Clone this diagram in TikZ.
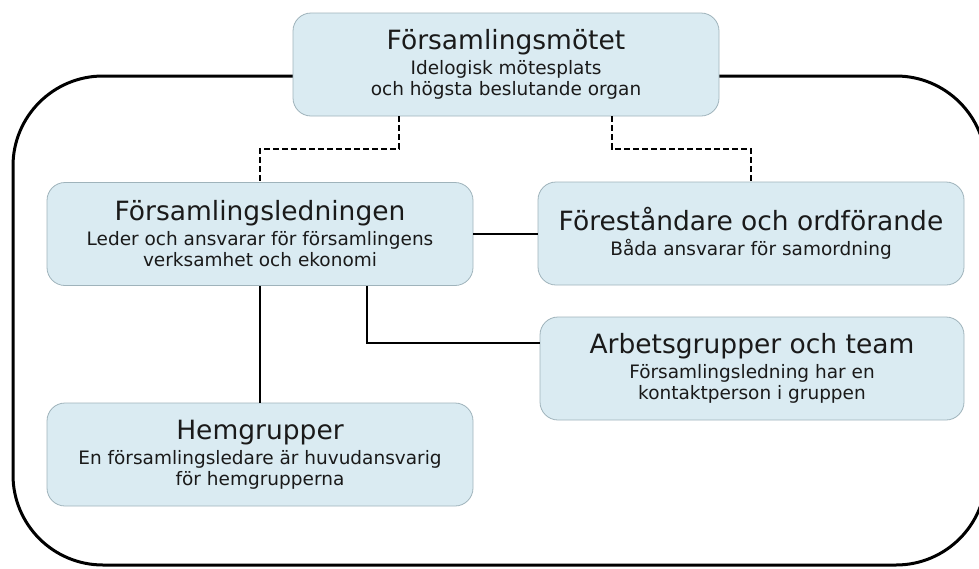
\documentclass[tikz,border=0pt]{standalone}
\usepackage{fontspec}
\setmainfont{DejaVu Sans}
\definecolor{boxfill}{HTML}{DAEBF2}
\definecolor{boxline}{HTML}{9FB3BB}
\definecolor{txt}{HTML}{1A1A1A}
\newcommand{\orgtitle}{\fontsize{26.5}{30}\selectfont}
\newcommand{\orgsub}{\fontsize{18.5}{21}\selectfont}
\begin{document}
\begin{tikzpicture}[x=1pt,y=-1pt,
  orgbox/.style={draw=boxline, line width=0.8pt, fill=boxfill, rounded corners=18pt,
    minimum width=426pt, minimum height=103pt, align=center, text=txt, inner sep=0pt, font=\orgsub},
  conn/.style={line width=2pt, draw=black},
  dconn/.style={conn, dash pattern=on 6pt off 3pt},
  framestyle/.style={line width=3pt, draw=black, rounded corners=90pt}]
\useasboundingbox (0,0) rectangle (979,568);
\begin{scope}
  \clip (0,0) rectangle (979,568);
  \draw[framestyle] (13,76) rectangle (986,565);
\end{scope}

\node[orgbox] (top) at (506,64.5) {{\orgtitle Församlingsmötet}\\[4pt]Idelogisk mötesplats\\och högsta beslutande organ};
\node[orgbox] (lead) at (260,234) {{\orgtitle Församlingsledningen}\\[4pt]Leder och ansvarar för församlingens\\verksamhet och ekonomi};
\node[orgbox] (fore) at (751,233.5) {{\orgtitle Föreståndare och ordförande}\\[4pt]Båda ansvarar för samordning};
\node[orgbox, minimum width=424pt] (arb) at (752,368.5) {{\orgtitle Arbetsgrupper och team}\\[4pt]Församlingsledning har en\\kontaktperson i gruppen};
\node[orgbox] (hem) at (260,454.5) {{\orgtitle Hemgrupper}\\[4pt]En församlingsledare är huvudansvarig\\för hemgrupperna};

\coordinate (d1) at (399,149);
\coordinate (d2) at (612,149);
\draw[dconn] ([xshift=-107pt]top.south) -- (d1) -| (lead.north);
\draw[dconn] ([xshift=106pt]top.south) -- (d2) -| (fore.north);
\draw[conn] (lead.east) -- (lead.east -| fore.west);
\draw[conn] (lead.south) -- (hem.north);
\draw[conn] ([xshift=107pt]lead.south) |- ([yshift=25.5pt]arb.west);
\end{tikzpicture}
\end{document}
